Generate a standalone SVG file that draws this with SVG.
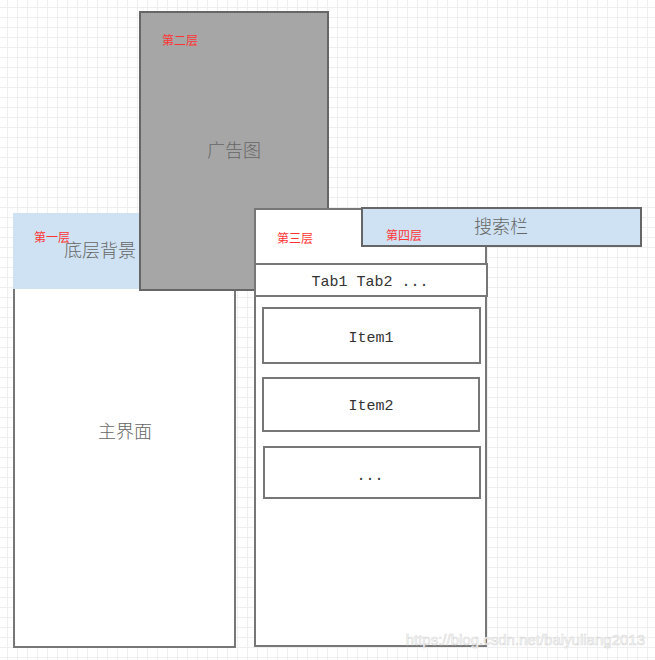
<svg xmlns="http://www.w3.org/2000/svg" width="655" height="660" viewBox="0 0 655 660">
<defs>
<pattern id="grid" x="0" y="0" width="10" height="10" patternUnits="userSpaceOnUse">
<path d="M7.5 0V10M0 7.5H10" stroke="#efefef" stroke-width="1" fill="none"/>
</pattern>
<style>
.box{fill:#fff;stroke:#777;stroke-width:2}
.blue{fill:#cfe2f3;stroke:none}
.layer{font-family:"Noto Sans CJK SC","Noto Sans",sans-serif;font-size:12px;fill:#ff3333}
.cn{font-family:"Noto Sans CJK SC",sans-serif;font-size:18px;fill:#666;text-anchor:middle;font-weight:300}
.mono{font-family:"Liberation Mono",monospace;font-size:15px;fill:#333;text-anchor:middle}
</style>
</defs>
<rect width="655" height="660" fill="#fff"/>
<rect width="655" height="660" fill="url(#grid)"/>
<g id="main">
<rect class="box" x="14" y="214" width="221" height="433"/>
<rect class="blue" x="13" y="213" width="128" height="76"/>
<text class="layer" x="34" y="242">第一层</text>
<text class="cn" x="100" y="257">底层背景</text>
<text class="cn" x="125" y="438">主界面</text>
</g>
<g id="ad">
<rect x="140" y="12" width="188" height="278" fill="#a6a6a6" stroke="#666" stroke-width="2"/>
<text class="layer" x="162" y="45">第二层</text>
<text class="cn" x="234" y="157">广告图</text>
</g>
<g id="layer3">
<rect class="box" x="255" y="209" width="231" height="437"/>
<text class="layer" x="277" y="243">第三层</text>
</g>
<g id="tabs">
<rect class="box" x="255" y="264" width="232" height="32"/>
<text class="mono" x="370" y="286">Tab1 Tab2 ...</text>
</g>
<g id="item1">
<rect class="box" x="263" y="308" width="217" height="55"/>
<text class="mono" x="371" y="342">Item1</text>
</g>
<g id="item2">
<rect class="box" x="263" y="378" width="216" height="53"/>
<text class="mono" x="371" y="410">Item2</text>
</g>
<g id="item3">
<rect class="box" x="264" y="447" width="216" height="51"/>
<text class="mono" x="370" y="480">...</text>
</g>
<g id="search">
<rect x="362" y="208" width="279" height="38" fill="#cfe2f3" stroke="#666" stroke-width="2"/>
<text class="layer" x="386" y="240">第四层</text>
<text class="cn" x="501" y="233">搜索栏</text>
</g>
<g id="connectors"/>
<text x="645" y="645" text-anchor="end" font-family="Liberation Sans,sans-serif" font-size="15" fill="#fff" stroke="#d8d8d8" stroke-width="0.6">https://blog.csdn.net/baiyuliang2013</text>
</svg>
